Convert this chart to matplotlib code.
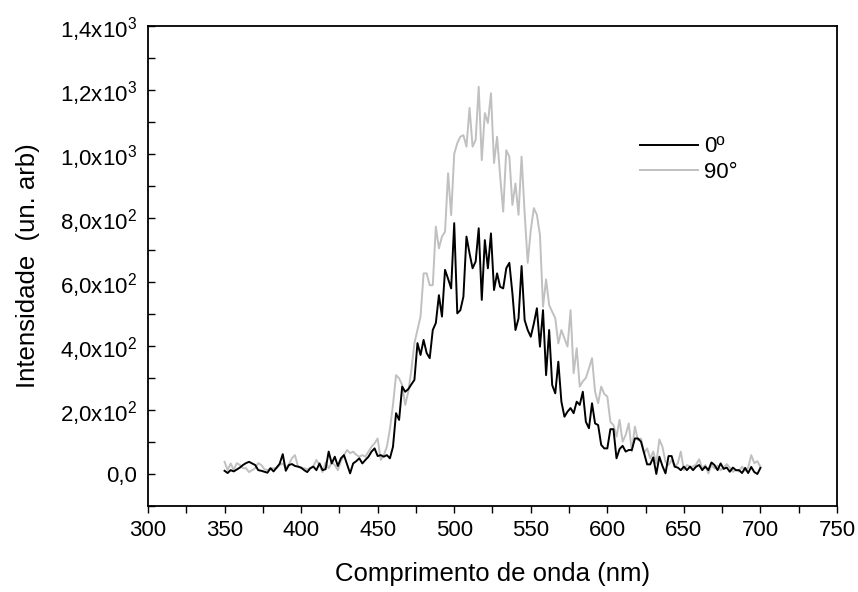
import matplotlib
matplotlib.use("Agg")
import matplotlib.pyplot as plt
from matplotlib.ticker import MultipleLocator, FixedLocator, FixedFormatter
import numpy as np

plt.rcParams['font.family'] = ['Liberation Sans', 'DejaVu Sans']
plt.rcParams['mathtext.fontset'] = 'custom'
plt.rcParams['mathtext.rm'] = 'Liberation Sans'

wavelength = np.arange(350, 701, 2)

int_0 = [
    10, 3, 12, 8, 14, 20, 28, 34, 38, 33,
    28, 12, 10, 7, 4, 18, 8, 20, 32, 62,
    10, 28, 31, 25, 23, 20, 12, 6, 18, 23,
    12, 33, 12, 15, 70, 33, 54, 25, 49, 59,
    30, 2, 33, 40, 49, 33, 44, 54, 70, 80,
    56, 59, 54, 59, 49, 85, 190, 169, 273, 257,
    265, 280, 294, 409, 372, 419, 378, 362, 450, 472,
    559, 492, 638, 610, 580, 784, 502, 512, 554, 742,
    690, 643, 664, 768, 544, 731, 643, 752, 575, 627,
    585, 580, 643, 660, 565, 450, 486, 650, 481, 450,
    429, 470, 518, 398, 512, 309, 450, 278, 252, 351,
    226, 179, 195, 206, 190, 226, 216, 257, 163, 143,
    221, 158, 153, 91, 80, 80, 140, 140, 49, 78,
    88, 70, 75, 75, 111, 111, 101, 65, 30, 30,
    52, 0, 54, 25, 2, 56, 56, 23, 20, 12,
    23, 12, 23, 12, 23, 28, 12, 23, 12, 36,
    28, 12, 33, 16, 20, 7, 20, 12, 12, 3,
    19, 3, 22, 6, 0, 19,
]

int_90 = [
    38, 12, 33, 12, 34, 28, 18, 18, 6, 12,
    18, 34, 28, 15, 12, 18, 18, 18, 28, 33,
    18, 30, 49, 59, 23, 18, 18, 15, 18, 25,
    44, 28, 6, 36, 18, 36, 28, 12, 40, 59,
    75, 65, 70, 60, 54, 59, 54, 70, 85, 96,
    111, 44, 59, 85, 140, 216, 309, 299, 278, 216,
    257, 325, 409, 450, 492, 627, 627, 590, 590, 773,
    705, 742, 757, 940, 809, 1000, 1034, 1054, 1059, 1023,
    1144, 1023, 1044, 1210, 981, 1128, 1097, 1190, 972, 1054,
    930, 820, 1012, 992, 841, 908, 810, 992, 815, 660,
    762, 831, 810, 747, 523, 608, 528, 507, 487, 408,
    450, 424, 398, 512, 315, 393, 273, 290, 300, 330,
    362, 257, 221, 273, 250, 242, 163, 153, 117, 169,
    101, 122, 158, 70, 148, 106, 111, 65, 80, 49,
    70, 33, 108, 85, 38, 28, 44, 23, 33, 70,
    12, 28, 23, 23, 30, 46, 17, 28, 2, 28,
    17, 26, 12, 20, 31, 20, 7, 12, 8, 23,
    10, 20, 59, 34, 40, 22,
]

series_labels = ['0º', '90°']
y_ticks = [0, 200, 400, 600, 800, 1000, 1200, 1400]
y_tick_labels = ['0,0', r'2,0x10$^2$', r'4,0x10$^2$', r'6,0x10$^2$', r'8,0x10$^2$',
                 r'1,0x10$^3$', r'1,2x10$^3$', r'1,4x10$^3$']

fig = plt.figure(figsize=(8.58, 5.92), dpi=100)
ax = fig.add_axes([0.1725, 0.1453, 0.803, 0.8107])

ax.plot(wavelength, int_0, color='black', lw=1.4, label=series_labels[0], zorder=3)
ax.plot(wavelength, int_90, color='#c0c0c0', lw=1.4, label=series_labels[1], zorder=2)

ax.set_xlim(300, 750)
ax.set_ylim(-100, 1400)
ax.xaxis.set_major_locator(MultipleLocator(50))
ax.xaxis.set_minor_locator(MultipleLocator(25))
ax.yaxis.set_major_locator(FixedLocator(y_ticks))
ax.yaxis.set_major_formatter(FixedFormatter(y_tick_labels))
ax.yaxis.set_minor_locator(MultipleLocator(100))

ax.tick_params(axis='both', which='both', labelsize=16, width=1.0)
ax.tick_params(axis='x', which='both', direction='out', length=5, pad=5)
ax.tick_params(axis='y', which='both', direction='in', length=5, pad=8)
for sp in ax.spines.values():
    sp.set_linewidth(1.3)

ax.set_xlabel('Comprimento de onda (nm)', fontsize=18.5, labelpad=15)
ax.set_ylabel('Intensidade  (un. arb)', fontsize=18.5, labelpad=14)

ax.legend(loc='upper left', bbox_to_anchor=(0.714, 0.77), frameon=False,
          fontsize=16, handlelength=2.6, handletextpad=0.3, labelspacing=0.2,
          borderpad=0, borderaxespad=0)

fig.savefig('out.png', dpi=100)
